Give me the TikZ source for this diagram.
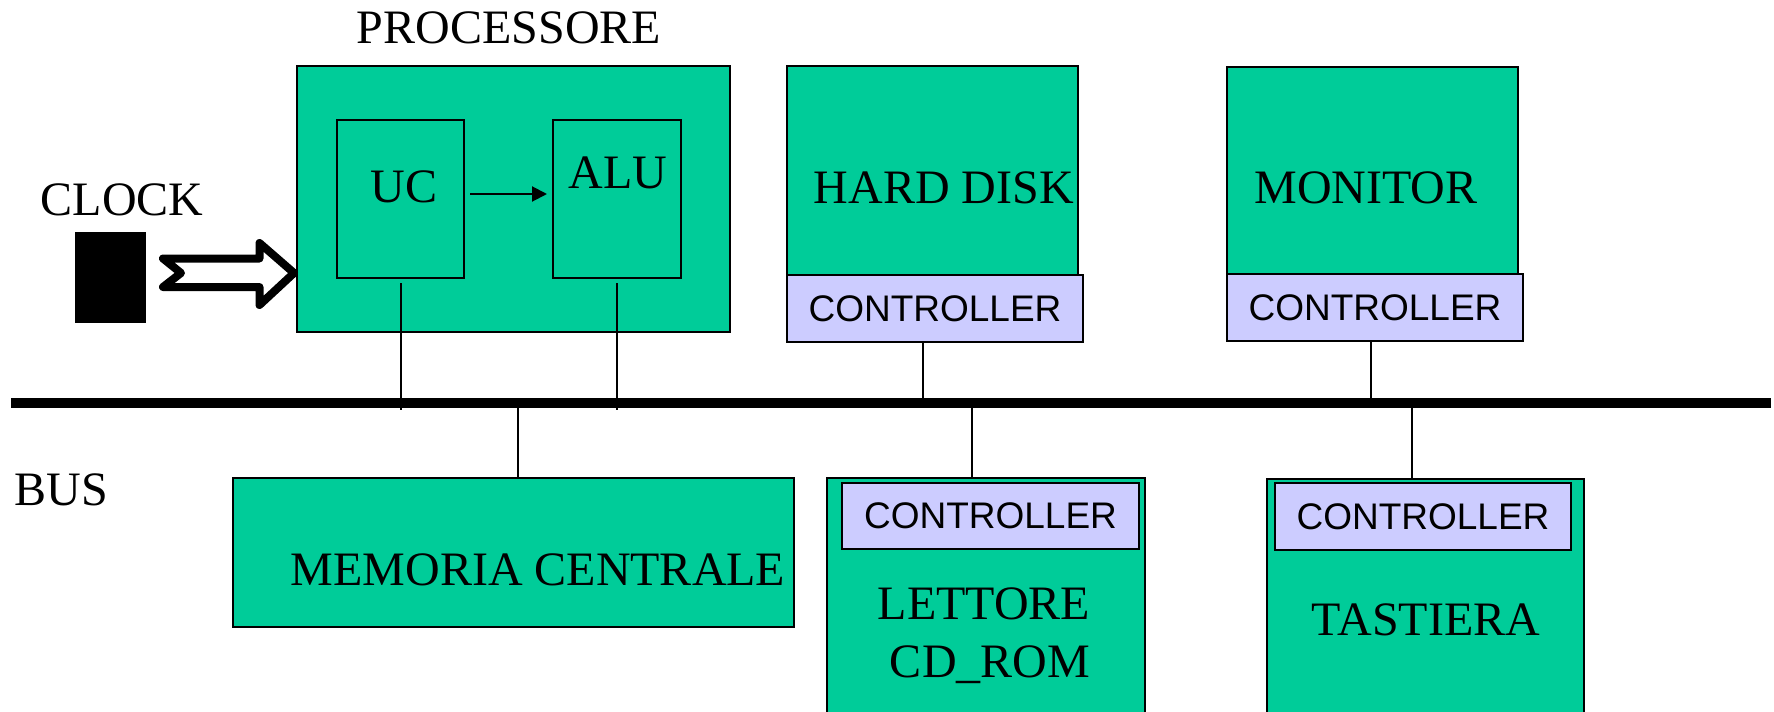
\documentclass[tikz,border=0pt]{standalone}
\usepackage{fontspec}
\setmainfont{Liberation Serif}
\setsansfont{Liberation Sans}
\usetikzlibrary{arrows.meta,calc}
\definecolor{boxgreen}{HTML}{00CC99}
\definecolor{ctrlblue}{HTML}{CCCCFF}
\begin{document}
\begin{tikzpicture}[x=0.5pt,y=-0.5pt,
  gbox/.style={draw=black,line width=1.1pt,fill=boxgreen,rectangle,anchor=north west,inner sep=0pt,outer sep=0pt},
  cbox/.style={draw=black,line width=1.1pt,fill=ctrlblue,rectangle,anchor=north west,inner sep=0pt,outer sep=0pt,font=\sffamily\fontsize{18.5}{22}\selectfont},
  lbl/.style={anchor=base,inner sep=0pt,font=\fontsize{24}{28}\selectfont},
  conn/.style={line width=1pt}]
\useasboundingbox (0,0) rectangle (1774,712);
\clip (0,0) rectangle (1774,712);
% boxes
\node[gbox,minimum width=216.5pt,minimum height=133pt] (proc) at (297,66) {};
\node[gbox,minimum width=63.5pt,minimum height=79pt] (uc) at (337,120) {};
\node[gbox,minimum width=64pt,minimum height=79pt] (alu) at (553,120) {};
\node[gbox,minimum width=145.5pt,minimum height=104.5pt] (hd) at (787,66) {};
\node[cbox,minimum width=148pt,minimum height=33.5pt] (hdc) at (787,275) {CONTROLLER};
\node[gbox,minimum width=145.5pt,minimum height=103.5pt] (mon) at (1227,67) {};
\node[cbox,minimum width=148pt,minimum height=33.5pt] (monc) at (1227,274) {CONTROLLER};
\node[gbox,minimum width=280.5pt,minimum height=74.5pt] (mem) at (233,478) {};
\node[gbox,minimum width=159pt,minimum height=131pt] (cd) at (827,478) {};
\node[cbox,minimum width=148.5pt,minimum height=33pt] (cdc) at (842,483) {CONTROLLER};
\node[gbox,minimum width=158.5pt,minimum height=131pt] (kb) at (1267,479) {};
\node[cbox,minimum width=148pt,minimum height=33.5pt] (kbc) at (1275,483) {CONTROLLER};
% labels
\node[lbl] (proct) at (509,43) {PROCESSORE};
\node[lbl] (uct) at (404,202) {UC};
\node[lbl] (alut) at (618,188) {ALU};
\node[lbl] (clockt) at (122,215) {CLOCK};
\node[lbl] (hdt) at (944,203) {HARD DISK};
\node[lbl] (mont) at (1366,203) {MONITOR};
\node[lbl] (memt) at (538,585) {MEMORIA CENTRALE};
\node[lbl,anchor=base west] (bust) at (14,505) {BUS};
\node[lbl] (cdt1) at (984,619) {LETTORE};
\node[lbl] (cdt2) at (990,677) {CD\_ROM};
\node[lbl] (kbt) at (1426,635) {TASTIERA};
% clock
\node[fill=black,anchor=north west,minimum width=35.5pt,minimum height=45.5pt,inner sep=0pt] (clk) at (75,232) {};
\draw[line width=4pt,line join=round,fill=white] (163,258.5) -- (259.5,258.5) -- (259.5,243) -- (294,273) -- (259.5,305) -- (259.5,287) -- (163,287) -- (181,273) -- cycle;
% UC -> ALU
\draw[conn,-{Triangle[length=7.5pt,width=7.5pt]},shorten <=3pt,shorten >=3pt] ([yshift=2.5pt]uc.east) -- ([yshift=2.5pt]alu.west);
% bus coordinates
\coordinate (busL) at (11,402.5);
\coordinate (busR) at (1771,402.5);
\coordinate (busbelow) at (0,410);
\coordinate (bhd) at (923,402.5);
\coordinate (bmon) at (1371,402.5);
\coordinate (bmem) at (518,402.5);
\coordinate (bcd) at (972,402.5);
\coordinate (bkb) at (1412,402.5);
% connectors
\draw[conn] ([yshift=-2.5pt]uc.south) -- (uc.south |- busbelow);
\draw[conn] ([yshift=-2.5pt]alu.south) -- (alu.south |- busbelow);
\draw[conn] (hdc.south -| bhd) -- (bhd);
\draw[conn] (monc.south -| bmon) -- (bmon);
\draw[conn] (bmem) -- (bmem |- mem.north);
\draw[conn] (bcd) -- (bcd |- cd.north);
\draw[conn] (bkb) -- (bkb |- kb.north);
% bus
\draw[line width=5pt] (busL) -- (busR);
\end{tikzpicture}
\end{document}
